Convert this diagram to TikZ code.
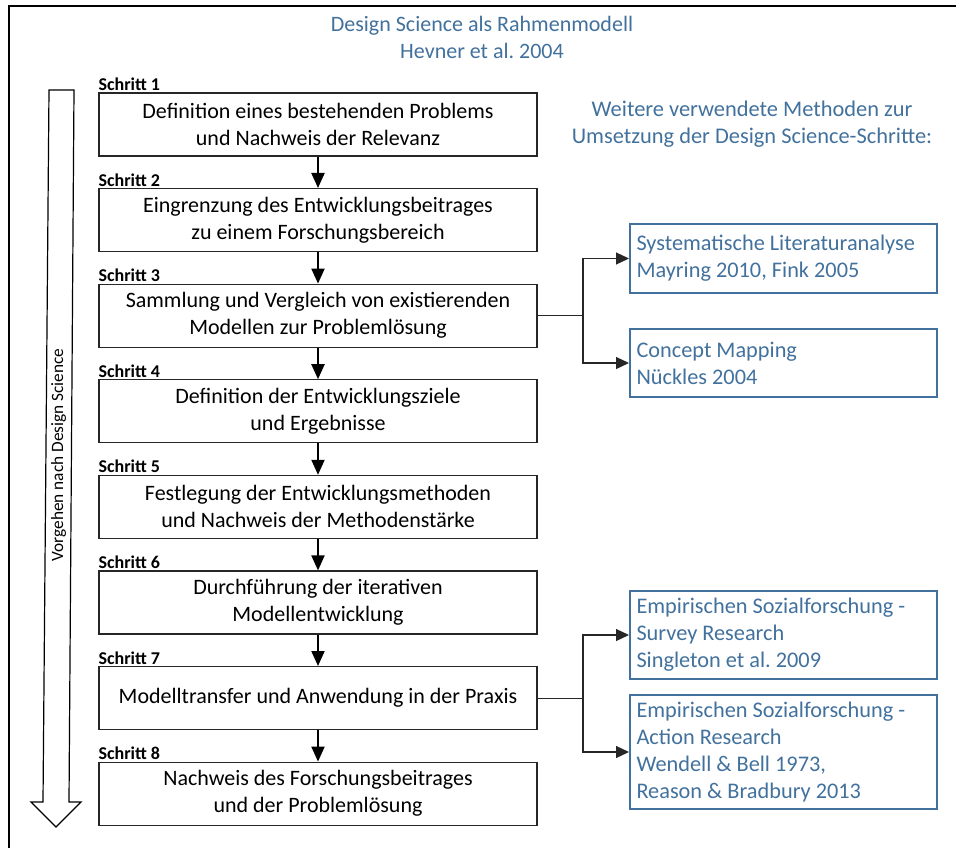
\documentclass[tikz,border=0pt]{standalone}
\usepackage{fontspec}
\setmainfont{Carlito}
\usetikzlibrary{arrows.meta}
\definecolor{methblue}{RGB}{65,113,156}
\frenchspacing
\begin{document}
\begin{tikzpicture}[x=1pt,y=-1pt,
  stepbox/.style={draw=black!85,line width=1.2pt,minimum width=438pt,minimum height=63pt,
    align=center,font=\fontsize{22}{27}\selectfont,inner sep=0pt},
  steplabel/.style={anchor=south west,font=\bfseries\fontsize{18}{18}\selectfont,inner sep=0pt,yshift=1.5pt},
  methbox/.style={draw=methblue,line width=2pt,minimum width=307pt,text width=294pt,align=flush left,
    text=methblue,font=\fontsize{22.3}{27}\selectfont,inner xsep=5pt,inner ysep=0pt},
  flow/.style={line width=2pt,-{Triangle[length=15pt,width=13pt]}},
  branch/.style={line width=1.2pt,draw=black!85,-{Triangle[length=13pt,width=12pt]}},
  bline/.style={line width=1.2pt,draw=black!85}]
\useasboundingbox (0,0) rectangle (956,848);
% outer frame
\draw[line width=1.5pt] (9,848) -- (9,6) -- (956,6);
% title
\node[text=methblue,align=center,font=\fontsize{22}{27}\selectfont] (title) at (482,37)
  {Design Science als Rahmenmodell\\Hevner et al. 2004};
% big process arrow
\draw[line width=1.2pt,fill=white] (49,90) -- (74,90) -- (69,802) -- (81,802) -- (56,827)
  -- (31,802) -- (43,802) -- cycle;
\node[rotate=90,font=\fontsize{17.3}{17.3}\selectfont] (vorgehen) at (58.5,455) {Vorgehen nach Design Science};
% steps
\node[stepbox] (s1) at (318,124.5) {Definition eines bestehenden Problems\\und Nachweis der Relevanz};
\node[stepbox] (s2) at (318,220.1) {Eingrenzung des Entwicklungsbeitrages\\zu einem Forschungsbereich};
\node[stepbox] (s3) at (318,315.7) {Sammlung und Vergleich von existierenden\\Modellen zur Problemlösung};
\node[stepbox] (s4) at (318,411.3) {Definition der Entwicklungsziele\\und Ergebnisse};
\node[stepbox] (s5) at (318,506.9) {Festlegung der Entwicklungsmethoden\\und Nachweis der Methodenstärke};
\node[stepbox] (s6) at (318,602.5) {Durchführung der iterativen\\Modellentwicklung};
\node[stepbox] (s7) at (318,698.1) {Modelltransfer und Anwendung in der Praxis};
\node[stepbox] (s8) at (318,793.7) {Nachweis des Forschungsbeitrages\\und der Problemlösung};
\foreach \i in {1,...,8}{
  \node[steplabel] (l\i) at (s\i.north west) {Schritt \i};
}
\foreach \a/\b in {s1/s2,s2/s3,s3/s4,s4/s5,s5/s6,s6/s7,s7/s8}{
  \draw[flow] (\a.south) -- (\b.north);
}
% further methods
\node[text=methblue,align=center,font=\fontsize{22.4}{27}\selectfont] (weitere) at (752,124.5)
  {Weitere verwendete Methoden zur\\Umsetzung der Design Science-Schritte:};
\node[methbox,minimum height=69pt] (m1) at (783.5,258.5) {Systematische Literaturanalyse\\Mayring 2010, Fink 2005};
\node[methbox,minimum height=68pt] (m2) at (783.5,363) {Concept Mapping\\Nückles 2004};
\node[methbox,minimum height=88pt] (m3) at (783.5,635) {Empirischen Sozialforschung -\\Survey Research\\Singleton et al. 2009};
\node[methbox,minimum height=114pt] (m4) at (783.5,752) {Empirischen Sozialforschung -\\Action Research\\Wendell \& Bell 1973,\\Reason \& Bradbury 2013};
% branches
\coordinate (j3) at (583,315.7);
\coordinate (j7) at (583,698.1);
\draw[bline] (s3.east) -- (j3);
\draw[bline] (s7.east) -- (j7);
\draw[branch] (j3) |- (m1.west);
\draw[branch] (j3) |- (m2.west);
\draw[branch] (j7) |- (m3.west);
\draw[branch] (j7) |- (m4.west);
\end{tikzpicture}
\end{document}
